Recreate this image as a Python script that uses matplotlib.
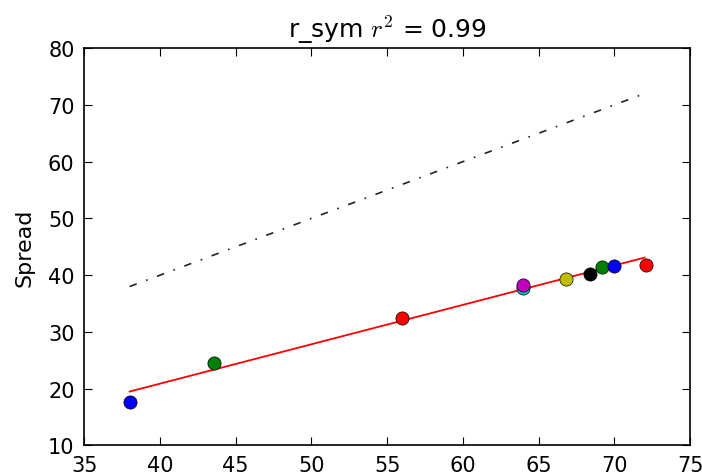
import matplotlib
matplotlib.use("Agg")
import matplotlib.pyplot as plt
import numpy as np

plt.rcParams['mathtext.fontset'] = 'cm'
plt.rcParams['font.family'] = ['DejaVu Sans']

x_vals = [38.0, 43.6, 56.0, 64.0, 64.0, 66.8, 68.4, 69.2, 70.0, 72.1]
y_vals = [17.7, 24.6, 32.4, 37.7, 38.2, 39.3, 40.2, 41.4, 41.7, 41.8]
colors = ['b', 'g', 'r', 'c', 'm', 'y', 'k', 'g', 'b', 'r']
fit_x = [38.0, 72.0]
fit_y = [19.5, 43.1]
ident = [38.0, 72.0]

fig = plt.figure(figsize=(7.02, 4.77), dpi=100)
ax = fig.add_axes([0.12, 0.064, 0.863, 0.833])

ax.plot(ident, ident, color='#222222', linestyle=(0, (4.5, 6, 1, 6)), linewidth=1.2)
ax.plot(fit_x, fit_y, color='r', linewidth=1.3)
for xv, yv, c in zip(x_vals, y_vals, colors):
    ax.plot(xv, yv, 'o', color=c, markersize=9.5, markeredgecolor='k', markeredgewidth=0.5)

ax.set_xlim(35, 75)
ax.set_ylim(10, 80)
ax.set_xticks(np.arange(35, 76, 5))
ax.set_yticks(np.arange(10, 81, 10))
ax.tick_params(direction='in', top=True, right=True, labelsize=15, length=6, pad=7)
for s in ax.spines.values():
    s.set_linewidth(1.2)
ax.set_ylabel('Spread', fontsize=16, labelpad=10)
ax.set_title('r_sym $r^2$ = 0.99', fontsize=18, pad=8)

fig.savefig('out.png', dpi=100)
